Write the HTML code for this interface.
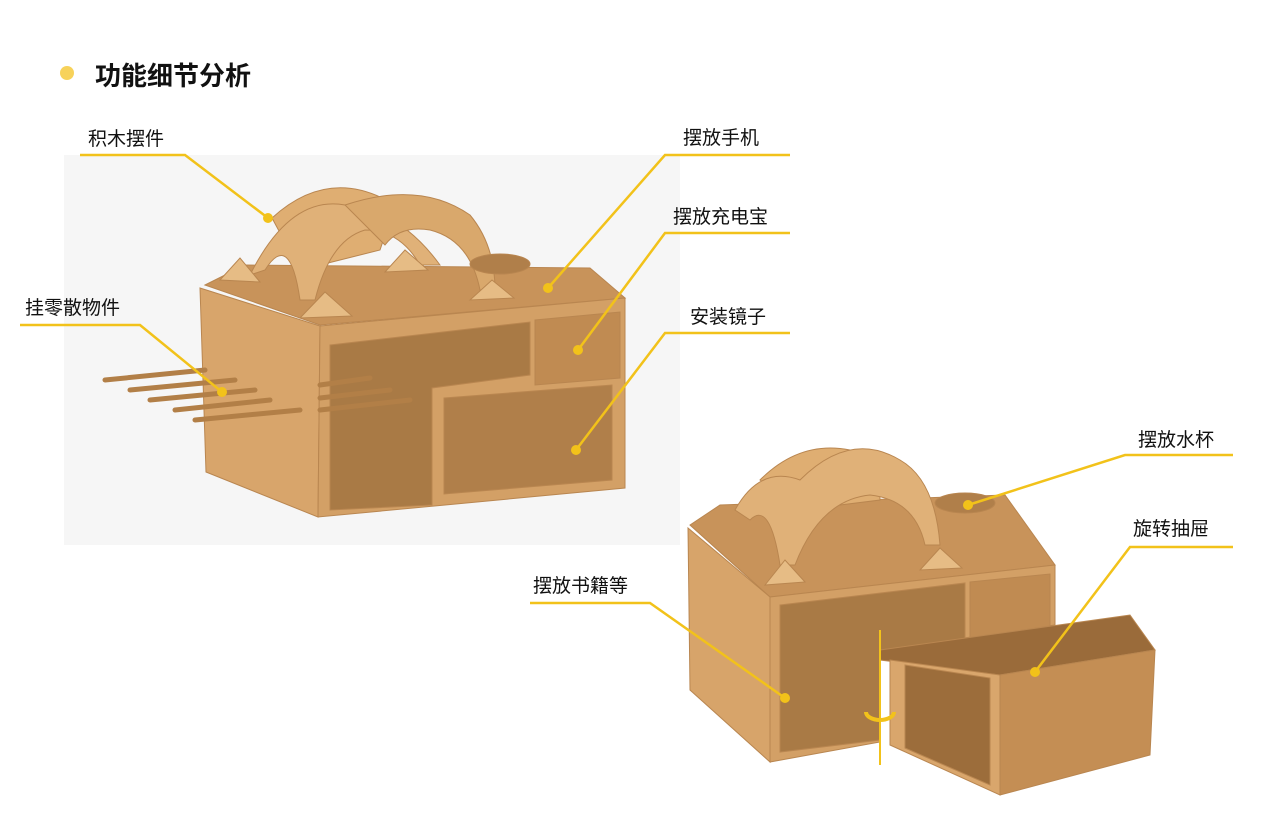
<!DOCTYPE html>
<html><head><meta charset="utf-8"><style>
body{margin:0;width:1269px;height:824px;background:#fff;overflow:hidden;position:relative;font-family:"Liberation Sans","Noto Sans CJK SC",sans-serif}
.t{position:absolute;font-size:19px;color:#111;white-space:nowrap}
svg{position:absolute;left:0;top:0}
</style></head><body>
<svg width="1269" height="824" viewBox="0 0 1269 824">
<circle cx="67" cy="73" r="7" fill="#f7d25a"/>
<rect x="64" y="155" width="616" height="390" fill="#f6f6f6"/>
<!-- left box -->
<g stroke="#b98650" stroke-width="1">
<polygon points="205,285 245,265 590,268 625,298 320,325" fill="#c8935a"/>
<polygon points="200,288 320,326 318,517 206,472" fill="#d8a56b"/>
<polygon points="320,326 625,298 625,488 318,517" fill="#d3a066"/>
<polygon points="330,345 530,322 530,375 432,388 432,505 330,510" fill="#a97a45"/>
<polygon points="535,320 620,312 620,378 535,385" fill="#c08b52"/>
<polygon points="444,398 612,385 612,480 444,494" fill="#b07f4a"/>
<path d="M272,218 Q330,165 395,205 L380,250 L300,270 Z" fill="#dfae72"/>
<path d="M250,275 Q290,195 345,205 Q400,210 440,265 L420,265 Q400,230 365,230 Q330,240 315,300 L300,300 Q290,230 265,270 Z" fill="#e0b178"/>
<path d="M345,205 Q420,180 470,215 Q495,245 495,290 L480,290 Q470,240 430,230 Q400,225 385,245 Z" fill="#d9a86c"/>
<polygon points="220,280 240,258 260,282" fill="#e6bc85"/>
<polygon points="300,318 325,292 352,316" fill="#e6bc85"/>
<polygon points="385,272 405,250 428,270" fill="#e6bc85"/>
<polygon points="470,300 492,280 514,298" fill="#e6bc85"/>
<ellipse cx="500" cy="264" rx="30" ry="10" fill="#b07f4a"/>
</g>
<g stroke="#b27f47" stroke-width="5" stroke-linecap="round">
<line x1="105" y1="380" x2="205" y2="370"/><line x1="130" y1="390" x2="235" y2="380"/>
<line x1="150" y1="400" x2="255" y2="390"/><line x1="175" y1="410" x2="270" y2="400"/>
<line x1="195" y1="420" x2="300" y2="410"/><line x1="320" y1="385" x2="370" y2="378"/>
<line x1="320" y1="398" x2="390" y2="390"/><line x1="320" y1="410" x2="410" y2="400"/>
</g>
<!-- right box -->
<g stroke="#b98650" stroke-width="1">
<polygon points="690,525 720,505 1005,495 1055,565 770,597" fill="#c8935a"/>
<polygon points="688,528 770,597 770,762 690,690" fill="#d7a46a"/>
<polygon points="770,597 1055,565 1055,625 880,650 880,742 770,762" fill="#d3a066"/>
<polygon points="780,605 965,583 965,640 880,650 880,740 780,752" fill="#a97a45"/>
<polygon points="970,582 1050,574 1050,626 970,638" fill="#c08b52"/>
<polygon points="880,650 1130,615 1155,650 1000,675 880,660" fill="#9a6b3a"/>
<polygon points="890,660 1000,675 1000,795 890,745" fill="#d9a66c"/>
<polygon points="1000,675 1155,650 1150,755 1000,795" fill="#c48e54"/>
<polygon points="905,665 990,678 990,785 905,748" fill="#9c6d3b"/>
<path d="M760,480 Q800,440 850,450 Q880,460 880,500 L800,510 Z" fill="#dfae72"/>
<path d="M735,510 Q760,465 800,480 Q850,430 900,460 Q935,480 940,545 L925,545 Q915,500 870,495 Q820,500 795,565 L780,565 Q770,500 750,520 Z" fill="#e0b178"/>
<polygon points="765,585 785,560 805,582" fill="#e6bc85"/>
<polygon points="920,570 940,548 962,568" fill="#e6bc85"/>
<ellipse cx="965" cy="503" rx="30" ry="10" fill="#b07f4a"/>
</g>
<line x1="880" y1="630" x2="880" y2="765" stroke="#f2c21a" stroke-width="2"/>
<path d="M866,712 a14,8 0 1 0 28,0" fill="none" stroke="#f2c21a" stroke-width="4"/>
<!-- callout lines -->
<g stroke="#f2c21a" stroke-width="2.5" fill="none">
<polyline points="80,155 185,155 268,218"/>
<polyline points="20,325 140,325 222,392"/>
<polyline points="790,155 665,155 548,288"/>
<polyline points="790,233 665,233 578,350"/>
<polyline points="790,333 665,333 576,450"/>
<polyline points="1233,455 1125,455 968,505"/>
<polyline points="1233,547 1130,547 1035,672"/>
<polyline points="530,603 650,603 785,698"/>
</g>
<g fill="#f2c21a">
<circle cx="268" cy="218" r="5"/><circle cx="222" cy="392" r="5"/><circle cx="548" cy="288" r="5"/>
<circle cx="578" cy="350" r="5"/><circle cx="576" cy="450" r="5"/><circle cx="968" cy="505" r="5"/>
<circle cx="1035" cy="672" r="5"/><circle cx="785" cy="698" r="5"/>
</g>
</svg>
<div class="t" style="left:95px;top:56px;font-size:26px;font-weight:bold">功能细节分析</div>
<div class="t" style="left:88px;top:124px">积木摆件</div>
<div class="t" style="left:25px;top:293px">挂零散物件</div>
<div class="t" style="left:683px;top:123px">摆放手机</div>
<div class="t" style="left:673px;top:202px">摆放充电宝</div>
<div class="t" style="left:690px;top:302px">安装镜子</div>
<div class="t" style="left:1138px;top:425px">摆放水杯</div>
<div class="t" style="left:1133px;top:514px">旋转抽屉</div>
<div class="t" style="left:533px;top:571px">摆放书籍等</div>
</body></html>
